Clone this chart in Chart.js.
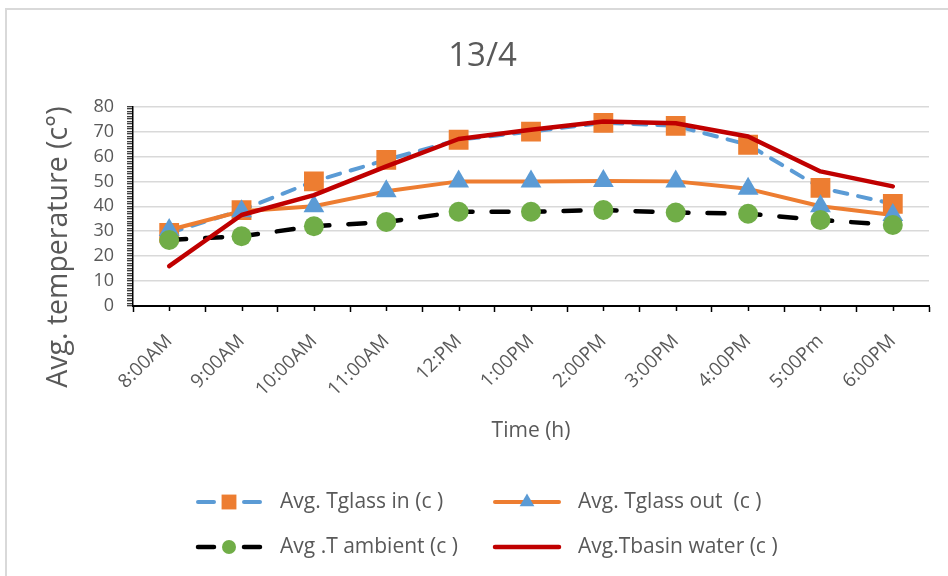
<!DOCTYPE html>
<html>
<head>
<meta charset="utf-8">
<script src="https://cdn.jsdelivr.net/npm/chart.js@4/dist/chart.umd.min.js"></script>
<style>
  html, body { margin: 0; padding: 0; background: #fff; }
  #wrap { width: 948px; height: 576px; }
</style>
</head>
<body>
<div id="wrap"><canvas id="chart" width="948" height="576"></canvas></div>
<script>
// time of day (x axis)
const hours = ['8:00AM', '9:00AM', '10:00AM', '11:00AM', '12:PM', '1:00PM', '2:00PM', '3:00PM', '4:00PM', '5:00Pm', '6:00PM'];

// avg temperatures
const tGlassIn  = [29.3, 38.5, 50, 58.6, 66.7, 70, 73.5, 72.3, 64.7, 47.4, 41];
const tGlassOut = [30.5, 38, 40, 46, 50, 50, 50.2, 50, 47, 40, 36.5];
const tAmbient  = [26.5, 28, 32, 33.7, 37.8, 37.8, 38.5, 37.5, 37, 34.5, 32.5];
const tBasin    = [16, 36.5, 44.5, 56, 67, 70.7, 74, 73.3, 68, 54, 48];

const yTicks = [0, 10, 20, 30, 40, 50, 60, 70, 80];

const FONT = '"Open Sans", "DejaVu Sans", sans-serif';
const TXT = '#595959';

// white background + the grey frame of the excel chart
const frame = {
    id: 'frame',
    beforeDraw(chart) {
        const c = chart.ctx;
        c.save();
        c.fillStyle = '#fff';
        c.fillRect(0, 0, chart.width, chart.height);
        c.strokeStyle = '#d9d9d9';
        c.lineWidth = 2;
        c.beginPath();
        c.moveTo(6, chart.height);
        c.lineTo(6, 9);
        c.lineTo(chart.width, 9);
        c.stroke();
        c.restore();
    }
};

// small ticks in the middle of every category
const minorTicks = {
    id: 'minorTicks',
    afterDraw(chart) {
        const x = chart.scales.x, c = chart.ctx;
        c.save();
        c.strokeStyle = '#000';
        c.lineWidth = 1.5;
        hours.forEach((h, i) => {
            const px = Math.round(x.getPixelForValue(i)) + 0.5;
            c.beginPath();
            c.moveTo(px, x.top);
            c.lineTo(px, x.top + 5);
            c.stroke();
        });
        c.restore();
    }
};

// legend: line sample with marker in the middle, 2 columns
const legendBox = {
    id: 'legendBox',
    afterDraw(chart) {
        const c = chart.ctx;
        const slots = [[195, 502], [493, 502], [195, 547], [493, 547]];
        chart.data.datasets.forEach((ds, i) => {
            const [x, y] = slots[i];
            c.save();
            c.strokeStyle = ds.borderColor;
            c.lineWidth = ds.borderWidth;
            c.lineCap = 'round';
            c.beginPath();
            if (ds.borderDash) {
                c.moveTo(x + 3, y); c.lineTo(x + 19, y);
                c.moveTo(x + 49, y); c.lineTo(x + 65, y);
            } else {
                c.moveTo(x + 2, y); c.lineTo(x + 66, y);
            }
            c.stroke();
            if (ds.pointRadius > 0) {
                c.fillStyle = ds.pointBackgroundColor;
                c.strokeStyle = ds.pointBackgroundColor;
                Chart.helpers.drawPoint(c, {
                    pointStyle: ds.pointStyle, rotation: 0, radius: ds.legendRadius, borderWidth: 0
                }, x + 34, y);
            }
            c.fillStyle = TXT;
            c.font = '21px ' + FONT;
            c.textBaseline = 'middle';
            c.fillText(ds.label, x + 85, y);
            c.restore();
        });
    }
};

new Chart(document.getElementById('chart'), {
    type: 'line',
    data: {
        labels: hours,
        datasets: [{
            label: 'Avg. Tglass in (c )',
            data: tGlassIn,
            borderColor: '#5B9BD5',
            borderWidth: 4,
            borderDash: [13, 11],
            borderCapStyle: 'round',
            pointStyle: 'rect',
            pointRadius: 14,
            legendRadius: 10.5,
            pointBackgroundColor: '#ED7D31',
            pointBorderColor: '#ED7D31',
            pointBorderWidth: 0,
            order: 4
        }, {
            label: 'Avg. Tglass out  (c )',
            data: tGlassOut,
            borderColor: '#ED7D31',
            borderWidth: 4,
            borderCapStyle: 'round',
            borderJoinStyle: 'round',
            pointStyle: 'triangle',
            pointRadius: 12,
            legendRadius: 8.5,
            pointBackgroundColor: '#5B9BD5',
            pointBorderColor: '#5B9BD5',
            pointBorderWidth: 0,
            order: 3
        }, {
            label: 'Avg .T ambient (c )',
            data: tAmbient,
            borderColor: '#000000',
            borderWidth: 4.5,
            borderDash: [17, 19],
            borderCapStyle: 'round',
            pointStyle: 'circle',
            pointRadius: 10,
            legendRadius: 7,
            pointBackgroundColor: '#70AD47',
            pointBorderColor: '#70AD47',
            pointBorderWidth: 0,
            order: 2
        }, {
            label: 'Avg.Tbasin water (c )',
            data: tBasin,
            borderColor: '#C00000',
            borderWidth: 4.5,
            borderCapStyle: 'round',
            borderJoinStyle: 'round',
            pointRadius: 0,
            order: 1
        }]
    },
    options: {
        responsive: false,
        devicePixelRatio: 1,
        animation: false,
        events: [],
        layout: { padding: { left: 36, right: 19, top: 0, bottom: 126 } },
        elements: { line: { tension: 0, fill: false } },
        plugins: {
            legend: { display: false },
            tooltip: { enabled: false },
            title: {
                display: true,
                text: '13/4',
                color: TXT,
                font: { family: FONT, size: 33, weight: 'normal' },
                padding: { top: 37, bottom: 30 }
            }
        },
        scales: {
            x: {
                offset: true,
                afterFit: (s) => { s.height = 144; },
                border: { color: '#000', width: 2 },
                grid: { offset: true, drawOnChartArea: false, tickColor: '#000', tickLength: 6, tickWidth: 1.5 },
                ticks: { minRotation: 45, maxRotation: 45, autoSkip: false, padding: 18, color: TXT, font: { family: FONT, size: 19 } },
                title: { display: true, text: 'Time (h)', color: TXT, font: { family: FONT, size: 21 }, padding: { bottom: 6 } }
            },
            y: {
                min: 0,
                max: 80,
                afterFit: (s) => { s.width = 97; },
                border: { color: '#000', width: 1.5 },
                grid: {
                    color: (ctx) => (ctx.tick && ctx.tick.value !== 0 && yTicks.includes(ctx.tick.value)) ? '#d9d9d9' : 'rgba(0,0,0,0)',
                    lineWidth: 1.5,
                    tickColor: '#000',
                    tickLength: 6,
                    tickWidth: 1
                },
                ticks: {
                    stepSize: 1,
                    autoSkip: false,
                    padding: 13,
                    color: TXT,
                    font: { family: FONT, size: 18 },
                    callback: (v) => yTicks.includes(v) ? v : ''
                },
                // trailing spaces push the rotated title down, like the excel original
                title: { display: true, text: 'Avg. temperature (c°)           ', color: TXT, font: { family: FONT, size: 28.5 }, padding: { top: 6 } }
            }
        }
    },
    plugins: [frame, minorTicks, legendBox]
});
</script>
</body>
</html>
